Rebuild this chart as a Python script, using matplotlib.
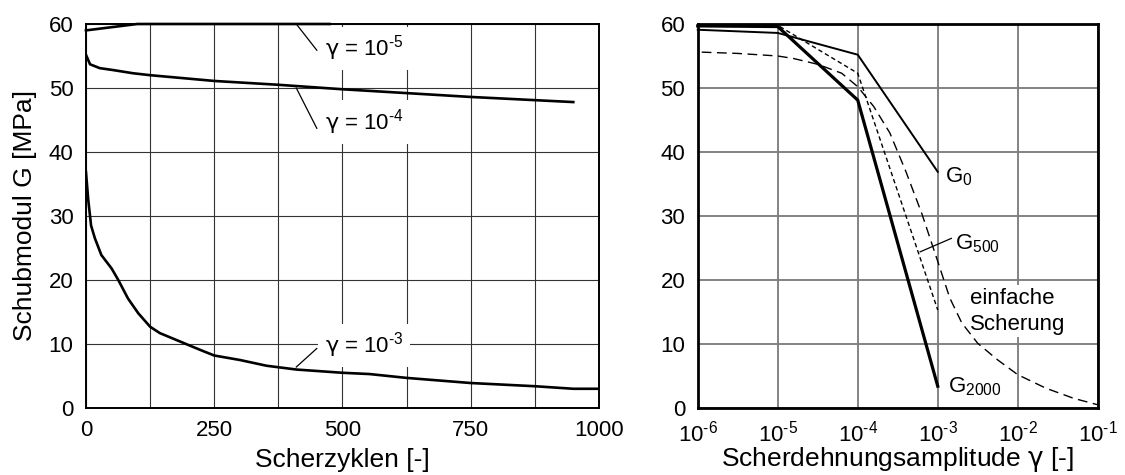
import numpy as np
import matplotlib
matplotlib.use("Agg")
import matplotlib.pyplot as plt

plt.rcParams['font.family'] = ['Liberation Sans', 'DejaVu Sans']
plt.rcParams['mathtext.fontset'] = 'custom'
plt.rcParams['mathtext.rm'] = 'Liberation Sans'
plt.rcParams['mathtext.it'] = 'Liberation Sans:italic'
plt.rcParams['mathtext.bf'] = 'Liberation Sans:bold'
plt.rcParams['mathtext.sf'] = 'DejaVu Sans'

# ---------------- data: left panel (G vs. cycles) ----------------
cycles_g5 = [0, 100, 475]
G_g5 = [59.0, 60.0, 60.0]

cycles_g4 = [0, 8, 27, 53, 92, 125, 250, 375, 500, 625, 750, 875, 950]
G_g4 = [55.2, 53.7, 53.1, 52.8, 52.3, 52.0, 51.1, 50.5, 49.8, 49.2, 48.6, 48.1, 47.8]

cycles_g3 = [0, 4.5, 10, 17.5, 30, 50, 63, 82, 102, 125, 144, 183, 222, 250,
             300, 352, 411, 500, 553, 625, 750, 875, 950, 1000]
G_g3 = [36.9, 32.5, 28.5, 26.5, 23.9, 21.8, 20.0, 17.1, 14.8, 12.7, 11.7, 10.4,
        9.1, 8.2, 7.5, 6.6, 6.0, 5.5, 5.3, 4.7, 3.9, 3.4, 3.0, 3.0]

left_labels = ['$\\mathsf{\\gamma}$ = 10$^{\\text{-5}}$',
               '$\\mathsf{\\gamma}$ = 10$^{\\text{-4}}$',
               '$\\mathsf{\\gamma}$ = 10$^{\\text{-3}}$']
left_xticks = [0, 250, 500, 750, 1000]
yticks = [0, 10, 20, 30, 40, 50, 60]

# ---------------- data: right panel (G vs. strain amplitude) ----------------
gamma_pts = [1e-6, 1e-5, 1e-4, 1e-3]
G0 = [59.1, 58.6, 55.2, 36.9]
G500 = [59.9, 59.8, 52.3, 15.3]
G2000 = [59.7, 59.6, 48.1, 3.4]

gamma_es_exp = [-5.95, -5.5, -5.0, -4.8, -4.5, -4.2, -4.0, -3.8, -3.6, -3.4, -3.2,
                -3.0, -2.85, -2.7, -2.5, -2.25, -2.0, -1.65, -1.3, -1.0]
G_es = [55.6, 55.4, 55.0, 54.6, 53.7, 52.3, 50.2, 47.1, 43.0, 37.0, 30.4,
        22.9, 17.2, 13.3, 10.1, 7.5, 5.2, 3.1, 1.5, 0.5]
gamma_es = [10.0 ** e for e in gamma_es_exp]

right_xticks = [1e-6, 1e-5, 1e-4, 1e-3, 1e-2, 1e-1]
right_xticklabels = ['10$^{\\text{-6}}$', '10$^{\\text{-5}}$', '10$^{\\text{-4}}$',
                     '10$^{\\text{-3}}$', '10$^{\\text{-2}}$', '10$^{\\text{-1}}$']

TICK_FS = 16
LABEL_FS = 19

fig = plt.figure(figsize=(11.25, 4.75), dpi=100)

# ======================= left panel =======================
ax1 = fig.add_axes([0.0764, 0.1411, 0.456, 0.8084])
ax1.set_xlim(0, 1000)
ax1.set_ylim(0, 60)
ax1.set_xticks(left_xticks)
ax1.set_xticks(np.arange(125, 1000, 250), minor=True)
ax1.set_yticks(yticks)
ax1.set_axisbelow(True)
ax1.grid(True, which='both', color='#333333', lw=0.8)
ax1.tick_params(which='both', length=0, labelsize=TICK_FS, pad=9)
for s in ax1.spines.values():
    s.set_linewidth(1.4)
    s.set_zorder(2.5)

lw_main = 1.9
ax1.plot(cycles_g5, G_g5, color='black', lw=lw_main, clip_on=False, zorder=2)
ax1.plot(cycles_g4, G_g4, color='black', lw=lw_main, zorder=2)
ax1.plot(cycles_g3, G_g3, color='black', lw=lw_main, zorder=2)

label_y = [56.2, 44.7, 9.8]
leader_from = [(410, 60.0), (410, 50.0), (410, 6.4)]
leader_to = [(450, 55.9), (450, 43.7), (450, 9.3)]
for lab, ly, p0, p1 in zip(left_labels, label_y, leader_from, leader_to):
    ax1.plot([p0[0], p1[0]], [p0[1], p1[1]], color='black', lw=0.9, zorder=2)
    ax1.text(466, ly, lab, fontsize=TICK_FS, va='center', ha='left', zorder=1,
             bbox=dict(boxstyle='square,pad=0.3', fc='white', ec='none'))

ax1.set_xlabel('Scherzyklen [-]', fontsize=LABEL_FS, va='center')
ax1.xaxis.set_label_coords(0.5, -0.135)
ax1.set_ylabel('Schubmodul G [MPa]', fontsize=LABEL_FS, labelpad=8)

# ======================= right panel =======================
ax2 = fig.add_axes([0.6202, 0.1411, 0.3556, 0.8084])
ax2.set_xscale('log')
ax2.set_xlim(1e-6, 1e-1)
ax2.set_ylim(0, 60)
ax2.set_xticks(right_xticks)
ax2.set_xticklabels(right_xticklabels)
ax2.xaxis.set_minor_locator(matplotlib.ticker.NullLocator())
ax2.set_yticks(yticks)
ax2.set_axisbelow(True)
ax2.grid(True, which='major', color='#7a7a7a', lw=1.3)
ax2.tick_params(which='both', length=0, labelsize=TICK_FS, pad=9)
for s in ax2.spines.values():
    s.set_linewidth(2.0)
    s.set_zorder(2.5)

ax2.plot(gamma_pts, G0, color='black', lw=1.4, zorder=2, clip_on=False)
ax2.plot(gamma_pts, G2000, color='black', lw=2.3, zorder=2, clip_on=False)
ax2.plot(gamma_pts, G500, color='black', lw=1.0, dashes=(3.2, 2.2), zorder=2, clip_on=False)
ax2.plot(gamma_es, G_es, color='black', lw=1.0, dashes=(7.0, 4.0), zorder=2)

ax2.text(10 ** -2.91, 36.2, 'G$_{\\mathrm{0}}$', fontsize=TICK_FS, ha='left', va='center', zorder=3)
ax2.text(10 ** -2.79, 25.6, 'G$_{\\mathrm{500}}$', fontsize=TICK_FS, ha='left', va='center', zorder=3)
ax2.plot([10 ** -3.22, 10 ** -2.83], [24.4, 26.5], color='black', lw=0.9, zorder=2)
ax2.text(10 ** -2.87, 3.4, 'G$_{\\mathrm{2000}}$', fontsize=TICK_FS, ha='left', va='center', zorder=3)
ax2.text(10 ** -2.6, 15.1, 'einfache\nScherung', fontsize=TICK_FS, ha='left', va='center',
         linespacing=1.3, zorder=1,
         bbox=dict(boxstyle='square,pad=0.12', fc='white', ec='none'))

ax2.set_xlabel('Scherdehnungsamplitude $\\mathsf{\\gamma}$ [-]', fontsize=LABEL_FS, va='center')
ax2.xaxis.set_label_coords(0.5, -0.135)

fig.savefig('out.png', dpi=100)
